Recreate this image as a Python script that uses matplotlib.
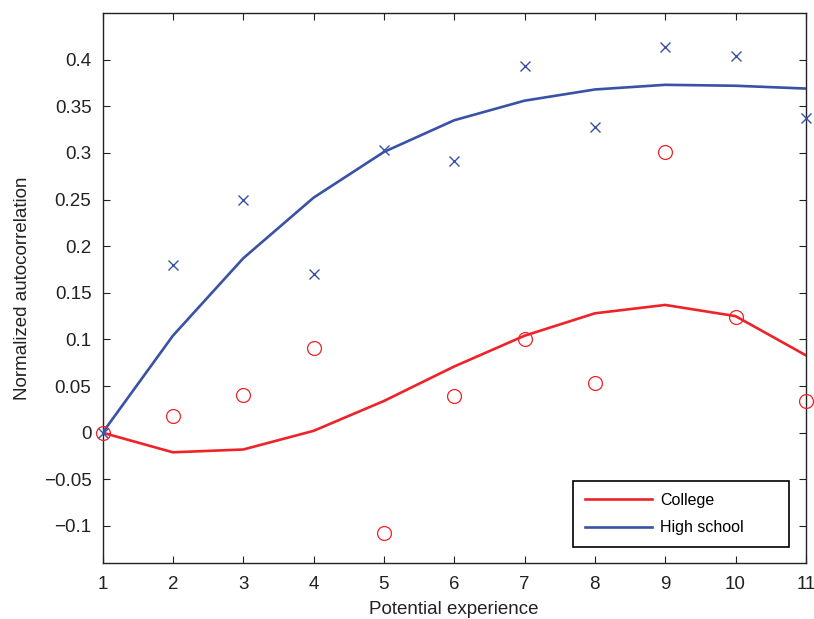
import matplotlib
matplotlib.use('Agg')
import matplotlib.pyplot as plt
import numpy as np

plt.rcParams['font.family'] = ['Liberation Sans', 'DejaVu Sans']

experience = np.arange(1, 12)

college_obs = [0.0, 0.018, 0.040, 0.091, -0.108, 0.039, 0.101, 0.053, 0.301, 0.124, 0.034]
college_fit = [0.0, -0.021, -0.018, 0.002, 0.034, 0.071, 0.104, 0.128, 0.137, 0.125, 0.083]
highschool_obs = [0.0, 0.180, 0.250, 0.170, 0.303, 0.291, 0.393, 0.328, 0.414, 0.404, 0.337]
highschool_fit = [0.0, 0.104, 0.187, 0.252, 0.301, 0.335, 0.356, 0.368, 0.373, 0.372, 0.369]

red = '#ee2228'
blue = '#3a52a6'

fig = plt.figure(figsize=(8.14, 6.19), dpi=100)
ax = fig.add_axes([0.126, 0.090, 0.864, 0.889])

ax.plot(experience, college_fit, color=red, lw=1.9, label='College', zorder=3)
ax.plot(experience, highschool_fit, color=blue, lw=1.9, label='High school', zorder=3)
ax.plot(experience, college_obs, ls='', marker='o', ms=10, mfc='none', mec=red, mew=0.9,
        clip_on=False, zorder=4)
ax.plot(experience, highschool_obs, ls='', marker='x', ms=7, mec=blue, mew=1.0,
        clip_on=False, zorder=4)

ax.set_xlim(1, 11)
ax.set_ylim(-0.14, 0.45)
ax.set_xticks(experience)
ax.set_yticks(np.arange(-0.1, 0.41, 0.05))
ax.set_yticklabels(['\u22120.1', '\u22120.05', '0', '0.05', '0.1', '0.15', '0.2',
                    '0.25', '0.3', '0.35', '0.4'])
ax.tick_params(direction='in', top=True, right=True, length=5, width=0.8,
               labelsize=13.5, colors='#222222')
ax.tick_params(axis='x', pad=9)
ax.tick_params(axis='y', pad=8)
for s in ax.spines.values():
    s.set_linewidth(1.0)
    s.set_color('#222222')

ax.set_xlabel('Potential experience', fontsize=13.5, color='#222222', labelpad=6)
ax.set_ylabel('Normalized autocorrelation', fontsize=13.5, color='#222222', labelpad=9)

# MATLAB-style legend box: wider than its content, content left aligned
leg = ax.legend(loc='lower left', bbox_to_anchor=(0.669, 0.029, 0.307, 0.12), mode='expand',
                fontsize=11.5, fancybox=False, framealpha=1, edgecolor='black',
                handlelength=4.2, borderpad=0.75, labelspacing=0.8, handletextpad=0.5,
                borderaxespad=0)
leg.get_frame().set_linewidth(1.2)

fig.savefig('out.png', dpi=100)
